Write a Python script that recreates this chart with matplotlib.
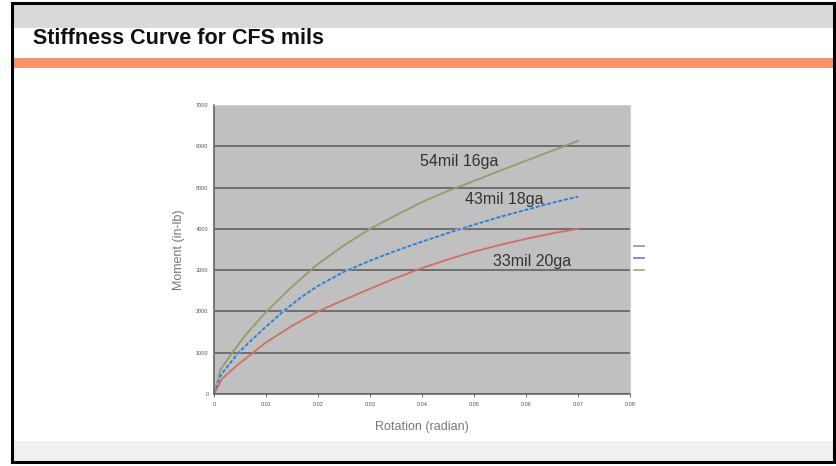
import matplotlib.pyplot as plt
from matplotlib.patches import Rectangle

# moment vs rotation readings for three CFS stud thicknesses
rot_54 = [0, 0.0012, 0.0035, 0.006, 0.0101, 0.015, 0.02, 0.025, 0.03, 0.035, 0.04, 0.045, 0.05, 0.055, 0.06, 0.065, 0.07]
mom_54 = [0, 580, 1000, 1420, 2000, 2600, 3150, 3600, 4000, 4330, 4650, 4920, 5160, 5410, 5650, 5890, 6130]

rot_43 = [0, 0.0013, 0.0047, 0.0075, 0.01, 0.0133, 0.0165, 0.02, 0.025, 0.03, 0.035, 0.04, 0.045, 0.05, 0.055, 0.06, 0.065, 0.07]
mom_43 = [0, 460, 1000, 1340, 1630, 2000, 2320, 2620, 2960, 3230, 3470, 3690, 3900, 4100, 4290, 4460, 4630, 4780]

rot_33 = [0, 0.0016, 0.0045, 0.0075, 0.01, 0.015, 0.02, 0.025, 0.03, 0.035, 0.04, 0.045, 0.05, 0.055, 0.06, 0.065, 0.07]
mom_33 = [0, 380, 700, 1000, 1250, 1650, 2000, 2280, 2550, 2810, 3050, 3260, 3450, 3610, 3760, 3890, 4000]

labels = ['54mil 16ga', '43mil 18ga', '33mil 20ga']
x_ticks = [0, 0.01, 0.02, 0.03, 0.04, 0.05, 0.06, 0.07, 0.08]
x_ticklabels = ['0', '0.01', '0.02', '0.03', '0.04', '0.05', '0.06', '0.07', '0.08']
y_ticks = [0, 1000, 2000, 3000, 4000, 5000, 6000, 7000]

plt.rcParams['font.family'] = ['Liberation Sans', 'DejaVu Sans']

fig = plt.figure(figsize=(8.37, 4.66), dpi=100)
fig.patch.set_facecolor('white')

# slide decoration: header band, orange rule, footer band, outer frame
fig.add_artist(Rectangle((0.013, 1 - 28/466), 0.985, 25/466, transform=fig.transFigure,
                         facecolor='#d9d9d9', edgecolor='none'))
fig.add_artist(Rectangle((0.013, 1 - 68/466), 0.985, 10/466, transform=fig.transFigure,
                         facecolor='#f79468', edgecolor='none'))
fig.add_artist(Rectangle((0.013, 1 - 462/466), 0.985, 21/466, transform=fig.transFigure,
                         facecolor='#f0f0f0', edgecolor='none'))
fig.add_artist(Rectangle((12/837, 4/466), 822/837, 459/466, transform=fig.transFigure,
                         facecolor='none', edgecolor='black', linewidth=2.2))
fig.text(33/837, 1 - 39/466, 'Stiffness Curve for CFS mils', fontsize=15.5, fontweight='bold',
         color='#111111', va='center', ha='left')

ax = fig.add_axes([214/837, 1 - 394/466, 416/837, 289/466])
ax.set_facecolor('#c0c0c0')

l54, = ax.plot(rot_54, mom_54, color='#99996a', linewidth=1.3)
ax.plot(rot_43, mom_43, color='#9dc0e6', linewidth=1.8)
l43, = ax.plot(rot_43, mom_43, color='#3f6fae', linewidth=1.2, linestyle=(0, (2.2, 1.3)))
l33, = ax.plot(rot_33, mom_33, color='#cf6f66', linewidth=1.3)

ax.set_xlim(0, 0.08)
ax.set_ylim(0, 7000)
ax.set_xticks(x_ticks)
ax.set_xticklabels(x_ticklabels)
ax.set_yticks(y_ticks)
ax.tick_params(labelsize=4, colors='#555555', length=2, width=0.6, pad=4)
ax.tick_params(axis='y', length=0)
ax.grid(axis='y', color='#6e6e6e', linewidth=1.4)
ax.set_axisbelow(True)
for side in ['top', 'right']:
    ax.spines[side].set_color('#d0d0d0')
for side in ['left', 'bottom']:
    ax.spines[side].set_color('#666666')
    ax.spines[side].set_linewidth(1.2)

ax.set_xlabel('Rotation (radian)', fontsize=9, color='#777777', labelpad=10)
ax.set_ylabel('Moment (in-lb)', fontsize=9, color='#777777', labelpad=8)

ax.text(0.0472, 5640, labels[0], fontsize=11.5, color='#333333', ha='center', va='center')
ax.text(0.0559, 4710, labels[1], fontsize=11.5, color='#333333', ha='center', va='center')
ax.text(0.0612, 3200, labels[2], fontsize=11.5, color='#333333', ha='center', va='center')

# small legend keys to the right of the plot area
leg = ax.legend([l33, l43, l54], [' ', ' ', ' '], loc='center left',
                bbox_to_anchor=(0.995, 0.467), frameon=False, handlelength=1.4,
                handletextpad=0, labelspacing=0.75, fontsize=5)
for lh, c in zip(leg.get_lines(), ['#9a8f9e', '#6f7fa0', '#a5a56a']):
    lh.set_color(c)
    lh.set_linestyle('-')
    lh.set_linewidth(1.2)

fig.savefig('out.png', dpi=100, facecolor='white')
